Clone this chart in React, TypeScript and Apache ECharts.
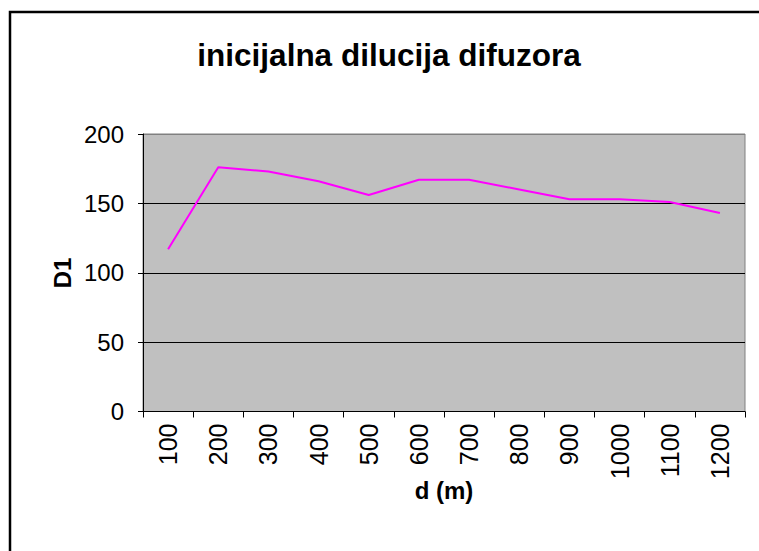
import React, { useEffect, useRef } from "react";
import * as echarts from "echarts";

const categories = ["100", "200", "300", "400", "500", "600", "700", "800", "900", "1000", "1100", "1200"];
const d1Values = [117, 176, 173, 166, 156, 167, 167, 160, 153, 153, 151, 143];
const yTicks = { min: 0, max: 200, interval: 50 };
const chartTitle = "inicijalna dilucija difuzora";
const xTitle = "d (m)";
const yTitle = "D1";

export default function App() {
  const ref = useRef<HTMLDivElement>(null);
  useEffect(() => {
    if (!ref.current) return;
    const chart = echarts.init(ref.current, null, { renderer: "svg" });
    const font = "'Liberation Sans', Arial, sans-serif";
    chart.setOption({
      animation: false,
      backgroundColor: "#ffffff",
      textStyle: { fontFamily: font },
      title: {
        text: chartTitle,
        left: 384,
        top: 34,
        textAlign: "center",
        textStyle: { fontFamily: font, fontSize: 31.5, fontWeight: "bold", color: "#000" },
      },
      grid: {
        left: 143,
        top: 134,
        width: 602,
        height: 277.5,
        show: true,
        backgroundColor: "#C0C0C0",
        borderColor: "#808080",
        borderWidth: 1,
      },
      xAxis: {
        type: "category",
        data: categories,
        boundaryGap: true,
        axisLine: { show: true, lineStyle: { color: "#000", width: 1 } },
        axisTick: { show: true, length: 6, lineStyle: { color: "#000" } },
        axisLabel: { rotate: 90, margin: 12, fontSize: 25, color: "#000", fontFamily: font },
        splitLine: { show: false },
      },
      yAxis: {
        type: "value",
        min: yTicks.min,
        max: yTicks.max,
        interval: yTicks.interval,
        axisLine: { show: true, lineStyle: { color: "#000", width: 1 } },
        axisTick: { show: true, length: 5, lineStyle: { color: "#000" } },
        axisLabel: { margin: 19, fontSize: 24, color: "#000", fontFamily: font },
        splitLine: {
          show: true,
          lineStyle: { color: ["#000", "#000", "#000", "#000", "#808080"], width: 1 },
        },
      },
      series: [
        {
          type: "line",
          data: d1Values,
          symbol: "none",
          lineStyle: { color: "#FF00FF", width: 2 },
        },
      ],
      graphic: [
        {
          type: "polyline",
          shape: { points: [[10, 560], [10, 12], [770, 12]] },
          style: { fill: "none", stroke: "#000", lineWidth: 2.5 },
          silent: true,
        },
        {
          type: "text",
          x: 444,
          y: 490,
          style: {
            text: xTitle,
            fontFamily: font,
            fontSize: 24,
            fontWeight: "bold",
            fill: "#000",
            align: "center",
            verticalAlign: "middle",
          },
        },
        {
          type: "text",
          x: 62,
          y: 273,
          rotation: Math.PI / 2,
          style: {
            text: yTitle,
            fontFamily: font,
            fontSize: 24,
            fontWeight: "bold",
            fill: "#000",
            align: "center",
            verticalAlign: "middle",
          },
        },
      ],
    });
    return () => chart.dispose();
  }, []);
  return (
    <div
      ref={ref}
      style={{ position: "absolute", left: 0, top: 0, width: 759, height: 551 }}
    />
  );
}
